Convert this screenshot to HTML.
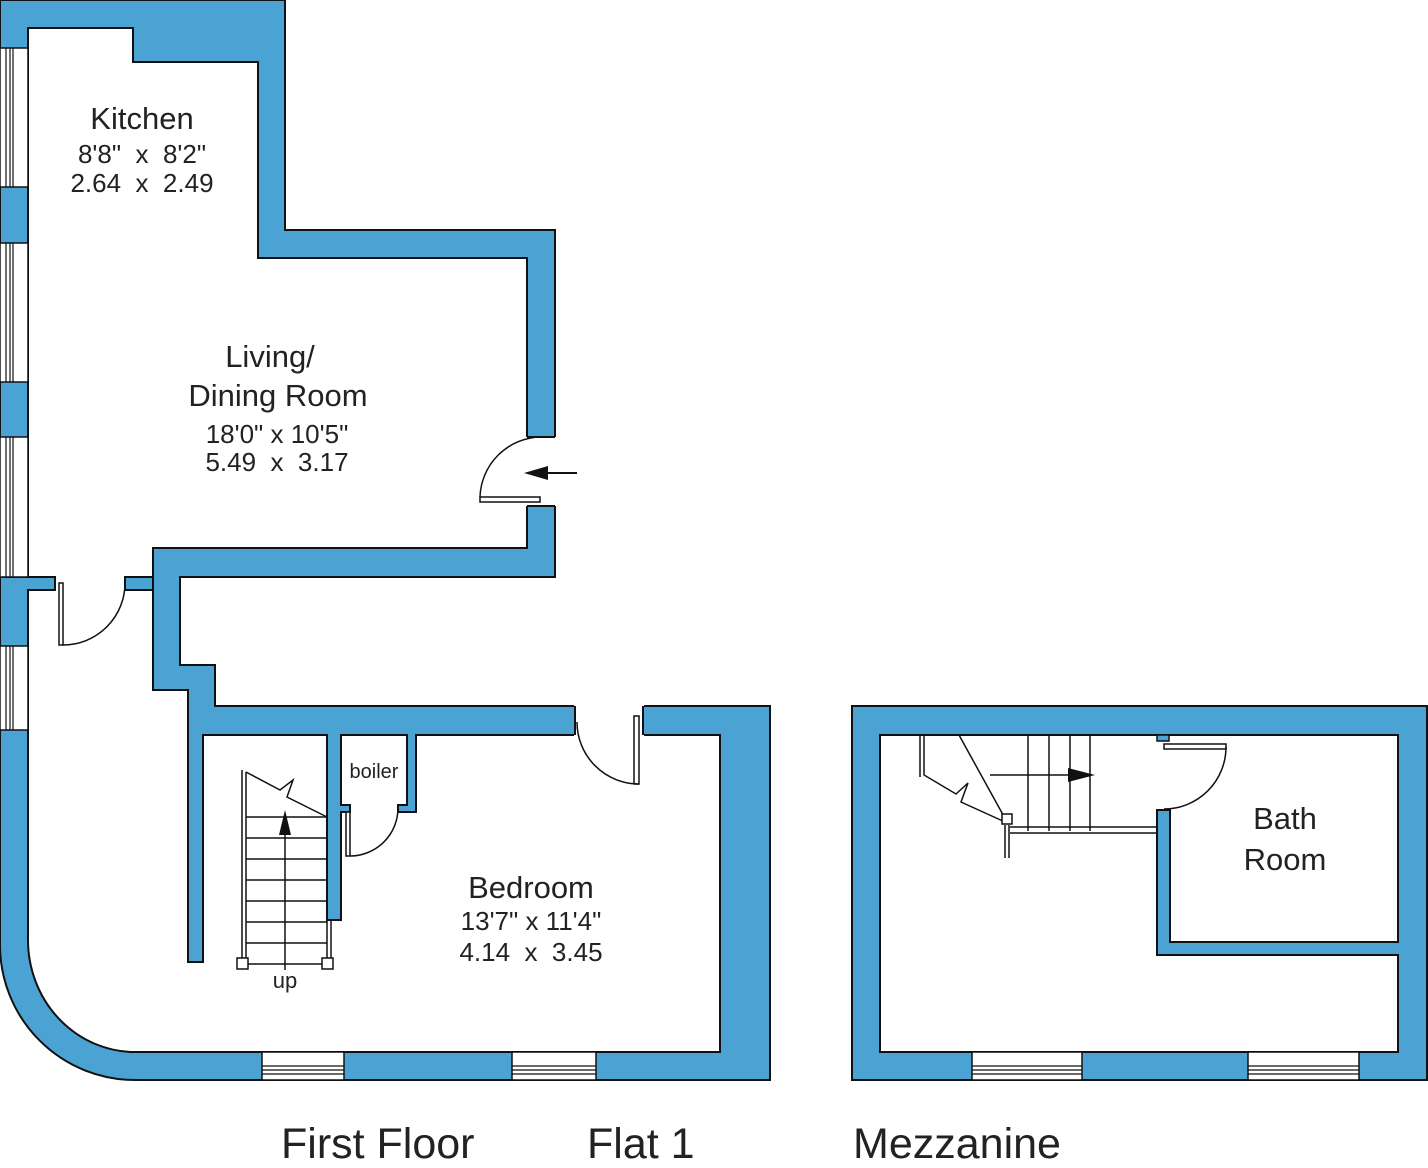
<!DOCTYPE html>
<html><head><meta charset="utf-8"><style>
html,body{margin:0;padding:0;background:#fff}
svg{display:block}
text{font-family:"Liberation Sans",Arial,sans-serif;fill:#222;white-space:pre}
</style></head><body>
<svg width="1428" height="1168" viewBox="0 0 1428 1168" xmlns="http://www.w3.org/2000/svg" xml:space="preserve">
<g stroke="#111" stroke-width="2" fill="#4BA3D4">
<path d="M0 0 H285 V230 H555 V577 H180 V665 H215 V706 H770 V1080 H135 A135 135 0 0 1 0 945 Z"/>
</g>
<g stroke="#111" stroke-width="2" fill="#fff">
<path d="M28 28 H133 V62 H258 V258 H527 V548 H153 V577 H125 V590 H55 V577 H28 Z"/>
<path d="M28 590 H153 V690 H188 V962 H203 V735 H327 V920 H341 V812 H350 V805 H341 V735 H407 V805 H398 V812 H416 V735 H720 V1052 H135 A107 112 0 0 1 28 940 Z"/>
</g>
<g fill="#fff" stroke="none">
<rect x="54" y="576" width="72" height="16"/>
<rect x="526" y="437" width="31" height="69"/>
<rect x="574" y="705" width="70" height="32"/>
</g>
<g stroke="#111" stroke-width="2" fill="#4BA3D4">
<rect x="125" y="577" width="28" height="13"/>
</g>
<rect x="1" y="578" width="53" height="11" fill="#4BA3D4"/>
<g stroke="#111" stroke-width="2" fill="none">
<path d="M0 577 H55 V590 H28"/>
<line x1="527" y1="437" x2="555" y2="437"/>
<line x1="527" y1="506" x2="555" y2="506"/>
<line x1="575" y1="706" x2="575" y2="735"/>
<line x1="643" y1="706" x2="643" y2="735"/>
</g>
<g stroke="#111" stroke-width="1.5" fill="#fff">
<rect x="0" y="48" width="28" height="139"/>
<rect x="0" y="243" width="28" height="139"/>
<rect x="0" y="437" width="28" height="140"/>
<rect x="0" y="646" width="28" height="84"/>
<rect x="262" y="1052" width="82" height="28"/>
<rect x="512" y="1052" width="84" height="28"/>
</g>
<g stroke="#111" stroke-width="1.2">
<path d="M6 48V187M10 48V187M13 48V187M6 243V382M10 243V382M13 243V382M6 437V577M10 437V577M13 437V577M6 646V730M10 646V730M13 646V730"/>
<path d="M262 1066H344M262 1070H344M262 1074H344M512 1066H596M512 1070H596M512 1074H596"/>
</g>
<g stroke="#111" stroke-width="1.5" fill="none">
<rect x="59" y="583" width="4" height="62" fill="#fff"/>
<path d="M63 645 A62 62 0 0 0 125 583"/>
<rect x="480" y="497" width="60" height="5" fill="#fff"/>
<path d="M540 437 A62 62 0 0 0 480 497"/>
<rect x="634" y="716" width="5" height="68" fill="#fff"/>
<path d="M639 784 A62 62 0 0 1 577 722"/>
<rect x="346" y="812" width="4" height="44" fill="#fff"/>
<path d="M350 856 A48 48 0 0 0 398 808"/>
</g>
<line x1="577" y1="473" x2="540" y2="473" stroke="#111" stroke-width="2"/>
<polygon points="524,473 548,466 548,480" fill="#111"/>
<g stroke="#111" stroke-width="1.5" fill="none">
<path d="M242 770 V964 M246 772 V964 M246 772 L280 790 L293 780 L287 797 L327 817"/>
<path d="M246 817H327M246 838H327M246 859H327M246 880H327M246 901H327M246 922H327M246 943H327M246 964H327"/>
<path d="M327 920 V964 M331 920 V964"/>
<path d="M285 970 V830"/>
</g>
<polygon points="285,810 279,835 291,835" fill="#111"/>
<g stroke="#111" stroke-width="1.5" fill="#fff">
<rect x="237" y="958" width="11" height="11"/>
<rect x="322" y="958" width="11" height="11"/>
</g>
<g stroke="#111" stroke-width="2">
<path fill="#4BA3D4" fill-rule="evenodd" d="M852 706 H1427 V1080 H852 Z M880 735 V1052 H1398 V955 H1157 V810 H1170 V942 H1398 V735 Z"/>
</g>
<g stroke="#111" stroke-width="1.5" fill="#fff">
<rect x="972" y="1052" width="110" height="28"/>
<rect x="1248" y="1052" width="111" height="28"/>
</g>
<g stroke="#111" stroke-width="1.2">
<path d="M972 1066H1082M972 1070H1082M972 1074H1082M1248 1066H1359M1248 1070H1359M1248 1074H1359"/>
</g>
<g stroke="#111" stroke-width="1.5" fill="none">
<path d="M920 735 V777 M924 735 V775 L956 794 L968 783 L961 802 L1005 822"/>
<path d="M959 735 L1007 822"/>
<path d="M1028 735V831M1049 735V831M1070 735V831M1090 735V831"/>
<path d="M1010 827 H1158 M1010 833 H1158"/>
<path d="M1005 825 V858 M1009 825 V858"/>
<path d="M990 775 H1075"/>
<rect x="1164" y="744" width="62" height="5" fill="#fff"/>
<path d="M1226 747 A62 62 0 0 1 1164 809"/>
<rect x="1157" y="735" width="12" height="6" fill="#4BA3D4"/>
</g>
<polygon points="1095,775 1068,768 1068,782" fill="#111"/>
<rect x="1002" y="814" width="10" height="10" fill="#fff" stroke="#111" stroke-width="1.5"/>
<g text-anchor="middle">
<text x="142" y="129" font-size="31">Kitchen</text>
<text x="142" y="163" font-size="26">8'8"  x  8'2"</text>
<text x="142" y="192" font-size="26">2.64  x  2.49</text>
<text x="270" y="367" font-size="31">Living/</text>
<text x="278" y="406" font-size="31">Dining Room</text>
<text x="277" y="443" font-size="26">18'0" x 10'5"</text>
<text x="277" y="471" font-size="26">5.49  x  3.17</text>
<text x="531" y="898" font-size="31">Bedroom</text>
<text x="531" y="930" font-size="26">13'7" x 11'4"</text>
<text x="531" y="961" font-size="26">4.14  x  3.45</text>
<text x="1285" y="829" font-size="31">Bath</text>
<text x="1285" y="870" font-size="31">Room</text>
<text x="374" y="778" font-size="20">boiler</text>
<text x="285" y="988" font-size="22">up</text>
</g>
<text x="281" y="1158" font-size="43">First Floor</text>
<text x="587" y="1158" font-size="43">Flat 1</text>
<text x="853" y="1158" font-size="43">Mezzanine</text>
</svg>
</body></html>
